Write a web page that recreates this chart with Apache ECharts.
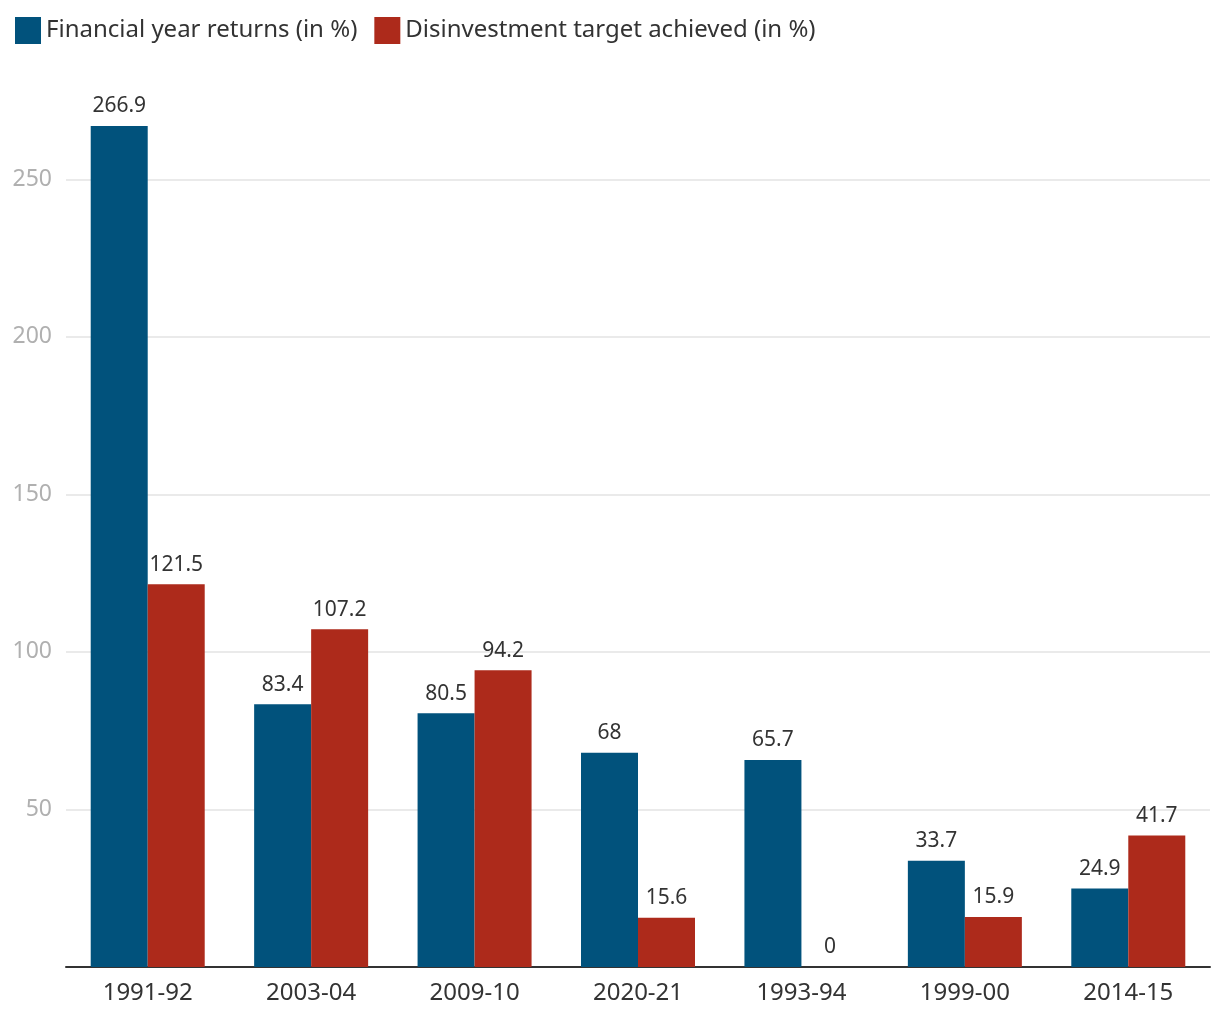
<!DOCTYPE html>
<html><head><meta charset="utf-8">
<script src="https://cdn.jsdelivr.net/npm/echarts@6/dist/echarts.min.js"></script>
<style>html,body{margin:0;padding:0;background:#fff}#c{width:1220px;height:1020px}</style>
</head><body><div id="c"></div>
<script>
const categories = ['1991-92','2003-04','2009-10','2020-21','1993-94','1999-00','2014-15'];
const returnsValues = [266.9, 83.4, 80.5, 68, 65.7, 33.7, 24.9];
const targetValues = [121.5, 107.2, 94.2, 15.6, 0, 15.9, 41.7];
const seriesNames = ['Financial year returns (in %)', 'Disinvestment target achieved (in %)'];
const FONT = '"Noto Sans", sans-serif';
const chart = echarts.init(document.getElementById('c'));
const lbl = {show:true, position:'top', distance:9, color:'#333', fontSize:21, fontFamily:FONT};
chart.setOption({
  animation:false,
  legend:{left:10, top:12, itemWidth:26, itemHeight:27, itemGap:17, icon:'rect',
    textStyle:{fontSize:24, color:'#333', fontFamily:FONT}},
  grid:{left:66, right:10, top:126, bottom:53, containLabel:false},
  xAxis:{type:'category', data:categories,
    axisLine:{lineStyle:{color:'#333', width:2}}, axisTick:{show:false},
    axisLabel:{color:'#333', fontSize:24, margin:14, fontFamily:FONT}},
  yAxis:{type:'value', min:0, max:266.9, interval:50,
    axisLine:{show:false}, axisTick:{show:false},
    splitLine:{showMaxLine:false, lineStyle:{color:'#e3e3e3', width:1.5}},
    axisLabel:{color:'#b0b0b0', fontSize:23, margin:14, fontFamily:FONT, showMaxLabel:false,
      formatter:v=> (v===0 || v>260) ? '' : v}},
  series:[
    {name:seriesNames[0], type:'bar', data:returnsValues, barWidth:57, barGap:'0%',
      itemStyle:{color:'#01527c'}, label:lbl},
    {name:seriesNames[1], type:'bar', data:targetValues, barWidth:57,
      itemStyle:{color:'#ad2a1b'}, label:lbl}
  ]
});
</script></body></html>
